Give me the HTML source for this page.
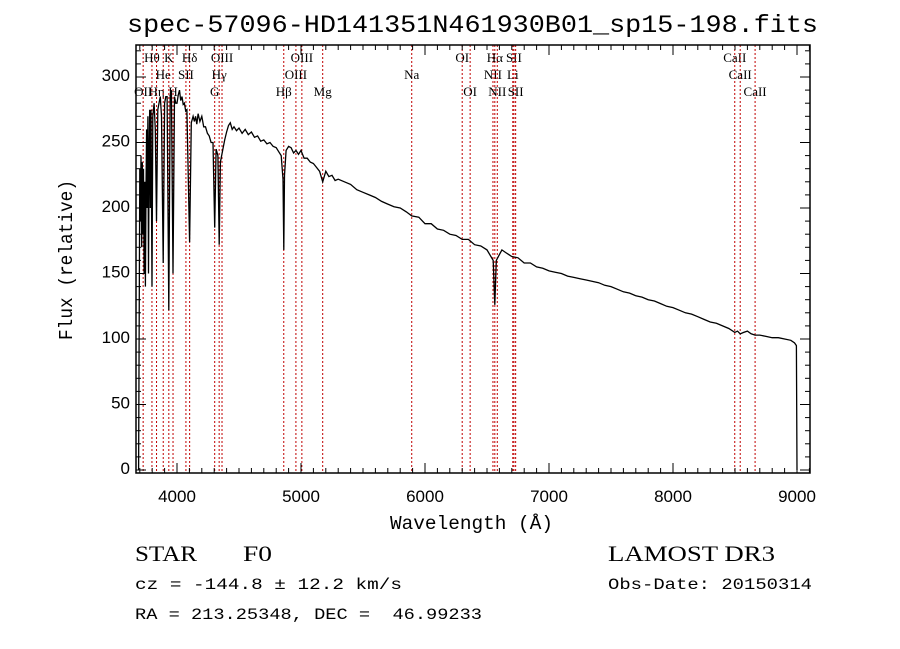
<!DOCTYPE html>
<html><head><meta charset="utf-8"><style>
body{margin:0;background:#fff;}
svg{display:block;}
</style></head><body>
<svg id="chart" width="900" height="649" xmlns="http://www.w3.org/2000/svg">
<rect width="900" height="649" fill="#fff"/>
<text x="127" y="32" font-family="Liberation Mono, monospace" font-size="25" textLength="691" lengthAdjust="spacingAndGlyphs">spec-57096-HD141351N461930B01_sp15-198.fits</text>
<g id="lines"></g>
<g id="spec"></g>
<g id="axes"></g>
<text x="390" y="529" font-family="Liberation Mono, monospace" font-size="19" textLength="163" lengthAdjust="spacingAndGlyphs">Wavelength (Å)</text>
<text transform="translate(72,340) rotate(-90)" font-family="Liberation Mono, monospace" font-size="19" textLength="160" lengthAdjust="spacingAndGlyphs">Flux (relative)</text>
<text x="135" y="561" font-family="Liberation Serif, serif" font-size="22" textLength="62" lengthAdjust="spacingAndGlyphs">STAR</text>
<text x="243" y="561" font-family="Liberation Serif, serif" font-size="22" textLength="29" lengthAdjust="spacingAndGlyphs">F0</text>
<text x="608" y="561" font-family="Liberation Serif, serif" font-size="22" textLength="167" lengthAdjust="spacingAndGlyphs">LAMOST DR3</text>
<text x="135" y="589" font-family="Liberation Mono, monospace" font-size="16" textLength="267" lengthAdjust="spacingAndGlyphs">cz = -144.8 ± 12.2 km/s</text>
<text x="608" y="589" font-family="Liberation Mono, monospace" font-size="16" textLength="204" lengthAdjust="spacingAndGlyphs">Obs-Date: 20150314</text>
<text x="135" y="619" font-family="Liberation Mono, monospace" font-size="16" xml:space="preserve" style="white-space:pre" textLength="347" lengthAdjust="spacingAndGlyphs">RA = 213.25348, DEC =  46.99233</text>
</svg>
<script>
const wavelengths=[3690,3700,3705,3710,3715,3720,3725,3730,3735,3740,3745,3750,3755,3760,3765,3770,3775,3780,3785,3790,3798,3805,3815,3825,3835,3845,3855,3865,3875,3889,3900,3910,3920,3934,3945,3955,3968,3980,3990,4000,4010,4020,4030,4040,4050,4060,4070,4080,4102,4115,4130,4140,4150,4160,4170,4185,4200,4215,4230,4245,4260,4275,4290,4304,4315,4330,4340,4350,4370,4385,4400,4415,4430,4445,4460,4480,4500,4525,4550,4575,4600,4625,4650,4675,4700,4725,4750,4775,4800,4820,4840,4855,4861,4867,4880,4900,4920,4940,4960,4980,5000,5025,5050,5075,5100,5125,5150,5175,5200,5225,5250,5275,5300,5350,5400,5450,5500,5550,5600,5650,5700,5750,5800,5850,5893,5950,6000,6050,6100,6150,6200,6250,6300,6350,6400,6450,6500,6550,6563,6575,6620,6650,6700,6750,6800,6850,6900,6950,7000,7050,7100,7150,7200,7250,7300,7350,7400,7450,7500,7550,7600,7650,7700,7750,7800,7850,7900,7950,8000,8050,8100,8150,8200,8250,8300,8350,8400,8450,8498,8520,8542,8570,8600,8630,8662,8700,8750,8800,8850,8900,8950,8980,8995,9000];
const fluxes=[0,230,190,240,170,235,180,230,150,220,140,215,260,200,270,150,240,275,200,275,140,270,280,260,190,275,280,285,270,158,280,285,285,122,285,290,150,285,280,280,286,290,282,285,279,280,274,275,174,265,270,266,270,264,272,266,270,262,262,257,255,250,250,185,245,240,172,235,245,252,258,263,265,260,262,259,261,257,260,256,258,254,255,251,252,249,250,247,246,243,240,222,168,225,244,247,246,242,244,241,244,238,238,235,234,231,228,220,228,224,225,221,222,220,218,214,212,210,208,205,203,201,200,197,194,193,188,188,184,183,180,179,176,176,172,171,168,160,126,160,168,166,163,162,158,158,155,154,152,151,150,148,147,146,145,144,143,141,140,138,136,135,133,132,130,129,127,125,124,122,120,119,117,115,113,112,110,108,105,106,104,105,106,104,103,103,102,101,101,100,99,97,95,0];
const lineWaves=[3727,3798,3835,3889,3934,3968,4072,4102,4304,4340,4363,4861,4959,5007,5175,5893,6300,6364,6548,6563,6583,6708,6717,6731,8498,8542,8662];
const labelTexts=["OII","Hθ","Hη","He","K","H","SII","Hδ","G","Hγ","OIII","Hβ","OIII","OIII","Mg","Na","OI","OI","NII","Hα","NII","Li","SII","SII","CaII","CaII","CaII"];
const labelRows=[2,0,2,1,0,2,1,0,2,1,0,2,1,0,2,1,0,2,1,0,2,1,0,2,0,1,2];
const xTicks=[4000,5000,6000,7000,8000,9000];
const yTicks=[0,50,100,150,200,250,300];
const NS="http://www.w3.org/2000/svg";
const L=136,R=810,T=45,B=473;
const X=w=>177+(w-4000)*0.124;
const Y=v=>470-v*1.31;
function mk(tag,attrs,parent){const e=document.createElementNS(NS,tag);for(const k in attrs)e.setAttribute(k,attrs[k]);parent.appendChild(e);return e;}
const lg=document.getElementById('lines');
lineWaves.forEach((w,i)=>{
  const l=mk('line',{x1:X(w),x2:X(w),y1:T,y2:B,stroke:'#c00000','stroke-width':1,'stroke-dasharray':'2,2'},lg);
  
  
  const t=mk('text',{x:X(w),y:62+labelRows[i]*17,'font-family':'Liberation Serif, serif','font-size':13,'text-anchor':'middle'},lg);
  t.textContent=labelTexts[i];
  
  
});
const sg=document.getElementById('spec');
const pts=wavelengths.map((w,i)=>X(w).toFixed(1)+','+Y(fluxes[i]).toFixed(1)).join(' ');
const pl=mk('polyline',{points:pts,fill:'none',stroke:'#000','stroke-width':1.3},sg);


const ag=document.getElementById('axes');
const fr=mk('rect',{x:L,y:T,width:R-L,height:B-T,fill:'none',stroke:'#000','stroke-width':1.5},ag);


for(let w=3700;w<=9100;w+=100){
  const major=w%1000===0;const len=major?10:5;
  mk('line',{x1:X(w),x2:X(w),y1:B,y2:B-len,stroke:'#000'},ag);
  mk('line',{x1:X(w),x2:X(w),y1:T,y2:T+len,stroke:'#000'},ag);
}
xTicks.forEach(w=>{const t=mk('text',{x:X(w),y:B+29,'font-family':'Liberation Sans, sans-serif','font-size':17,'text-anchor':'middle'},ag);t.textContent=w;
  
  });
for(let v=0;v<=320;v+=10){
  const major=v%50===0;const len=major?10:5;
  mk('line',{x1:L,x2:L+len,y1:Y(v),y2:Y(v),stroke:'#000'},ag);
  mk('line',{x1:R,x2:R-len,y1:Y(v),y2:Y(v),stroke:'#000'},ag);
}
yTicks.forEach(v=>{const t=mk('text',{x:L-6,y:Y(v)+4,'font-family':'Liberation Sans, sans-serif','font-size':17,'text-anchor':'end'},ag);t.textContent=v;
  
  });
</script>
</body></html>
